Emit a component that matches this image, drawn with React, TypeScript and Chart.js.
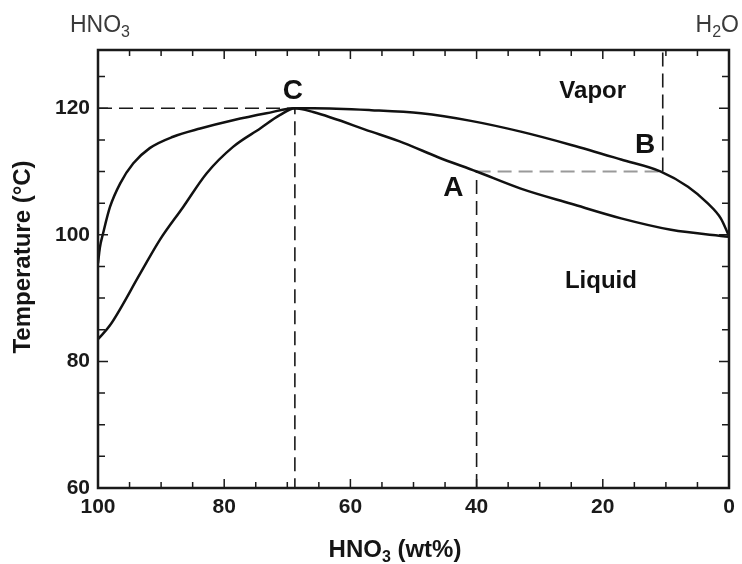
import React, { useEffect, useRef } from "react";
import { Chart, registerables } from "chart.js";

Chart.register(...registerables);

// ---- Data (HNO3 wt% vs temperature °C) ----
const vaporWt = [100, 99.7, 99.2, 98.1, 96.5, 94.4, 91.8, 88.1, 83.8, 78.6, 73.3, 68.8, 65.9, 56.7, 48.8, 40.9, 33.0, 25.0, 17.1, 10.8, 6.5, 3.4, 1.3, 0];
const vaporT = [95.5, 98.0, 100.2, 104.4, 108.1, 111.3, 113.7, 115.5, 116.8, 118.1, 119.2, 120.0, 120.0, 119.7, 119.2, 118.0, 116.3, 114.2, 111.9, 110.0, 107.6, 105.0, 102.6, 99.8];

const liquidWt = [100, 98.1, 93.3, 90.2, 86.5, 82.8, 78.6, 74.3, 71.2, 68.8, 65.9, 56.7, 51.5, 46.2, 40.0, 33.0, 25.0, 17.1, 9.2, 0];
const liquidT = [83.5, 85.7, 93.9, 99.2, 104.4, 109.7, 113.9, 116.8, 118.9, 120.0, 119.4, 116.3, 114.5, 112.3, 110.0, 107.3, 104.9, 102.6, 100.8, 99.7];

const pointC = { wt: 68.8, t: 120 };
const pointA = { wt: 40, t: 110 };
const pointB = { wt: 10.5, t: 110 };

const xTickValues = [100, 80, 60, 40, 20, 0];
const yTickValues = [60, 80, 100, 120];
const X_MIN = 0;
const X_MAX = 100;
const Y_MIN = 60;
const Y_MAX = 129.2;
const MINOR_STEP = 5;

const regionLabels = [
  { text: "Vapor", wt: 21.6, t: 122.6 },
  { text: "Liquid", wt: 20.3, t: 92.7 },
];
const pointLabels = [
  { text: "C", wt: 69.1, t: 122.6 },
  { text: "A", wt: 43.7, t: 107.4 },
  { text: "B", wt: 13.3, t: 114.2 },
];

const FONT = '"Liberation Sans", Arial, Helvetica, sans-serif';

function zip(xs: number[], ys: number[]) {
  return xs.map((x, i) => ({ x, y: ys[i] }));
}

function drawParts(
  ctx: CanvasRenderingContext2D,
  parts: { t: string; sub?: boolean }[],
  x: number,
  y: number,
  size: number,
  weight: string,
  align: "left" | "center" | "right"
) {
  const subSize = Math.round(size * 0.68);
  const widths = parts.map((p) => {
    ctx.font = `${weight} ${p.sub ? subSize : size}px ${FONT}`;
    return ctx.measureText(p.t).width;
  });
  const total = widths.reduce((a, b) => a + b, 0);
  let cx = align === "left" ? x : align === "center" ? x - total / 2 : x - total;
  ctx.textAlign = "left";
  ctx.textBaseline = "alphabetic";
  parts.forEach((p, i) => {
    ctx.font = `${weight} ${p.sub ? subSize : size}px ${FONT}`;
    ctx.fillText(p.t, cx, p.sub ? y + size * 0.22 : y);
    cx += widths[i];
  });
}

const decorPlugin = {
  id: "decor",
  afterDraw(chart: any) {
    const { ctx, chartArea, scales } = chart;
    const { left, right, top, bottom } = chartArea;
    const xs = scales.x;
    const ys = scales.y;
    ctx.save();

    // frame
    ctx.strokeStyle = "#1a1a1a";
    ctx.lineWidth = 2.5;
    ctx.strokeRect(left, top, right - left, bottom - top);

    // inward ticks
    ctx.lineWidth = 1.5;
    ctx.beginPath();
    for (let v = X_MIN; v <= X_MAX; v += MINOR_STEP) {
      const px = xs.getPixelForValue(v);
      const len = v % 20 === 0 ? 9 : 6;
      ctx.moveTo(px, bottom);
      ctx.lineTo(px, bottom - len);
      ctx.moveTo(px, top);
      ctx.lineTo(px, top + len);
    }
    for (let v = Y_MIN; v <= Y_MAX; v += MINOR_STEP) {
      const py = ys.getPixelForValue(v);
      const len = v % 20 === 0 ? 10 : 7;
      ctx.moveTo(left, py);
      ctx.lineTo(left + len, py);
      ctx.moveTo(right, py);
      ctx.lineTo(right - len, py);
    }
    ctx.stroke();

    ctx.fillStyle = "#111";
    // region labels
    ctx.textAlign = "center";
    ctx.textBaseline = "middle";
    ctx.font = `bold 24px ${FONT}`;
    regionLabels.forEach((l) => {
      ctx.fillText(l.text, xs.getPixelForValue(l.wt), ys.getPixelForValue(l.t));
    });
    ctx.font = `bold 28px ${FONT}`;
    pointLabels.forEach((l) => {
      ctx.fillText(l.text, xs.getPixelForValue(l.wt), ys.getPixelForValue(l.t));
    });

    // axis titles
    ctx.fillStyle = "#151515";
    drawParts(ctx, [{ t: "HNO" }, { t: "3", sub: true }, { t: " (wt%)" }], 395, 557, 24, "bold", "center");

    ctx.save();
    ctx.translate(23, 257);
    ctx.rotate(-Math.PI / 2);
    ctx.font = `bold 24px ${FONT}`;
    ctx.textAlign = "center";
    ctx.textBaseline = "middle";
    ctx.fillText("Temperature (°C)", 0, 0);
    ctx.restore();

    // corner component labels
    ctx.fillStyle = "#3a3a3a";
    drawParts(ctx, [{ t: "HNO" }, { t: "3", sub: true }], 70, 32, 23, "normal", "left");
    drawParts(ctx, [{ t: "H" }, { t: "2", sub: true }, { t: "O" }], 739, 32, 23, "normal", "right");

    ctx.restore();
  },
};

export default function App() {
  const canvasRef = useRef<HTMLCanvasElement | null>(null);

  useEffect(() => {
    if (!canvasRef.current) return;
    const dashed = {
      borderColor: "#1a1a1a",
      borderWidth: 1.6,
      borderDash: [14, 7],
      pointRadius: 0,
      tension: 0,
      fill: false,
    };
    const chart = new Chart(canvasRef.current, {
      type: "line",
      data: {
        datasets: [
          {
            label: "Vapor",
            data: zip(vaporWt, vaporT),
            borderColor: "#111",
            borderWidth: 2.5,
            pointRadius: 0,
            cubicInterpolationMode: "monotone",
            fill: false,
          },
          {
            label: "Liquid",
            data: zip(liquidWt, liquidT),
            borderColor: "#111",
            borderWidth: 2.5,
            pointRadius: 0,
            cubicInterpolationMode: "monotone",
            fill: false,
          },
          {
            label: "C",
            data: [
              { x: X_MAX, y: pointC.t },
              { x: pointC.wt, y: pointC.t },
              { x: pointC.wt, y: Y_MIN },
            ],
            ...dashed,
          },
          {
            label: "A",
            data: [
              { x: pointA.wt, y: Y_MIN },
              { x: pointA.wt, y: pointA.t },
            ],
            ...dashed,
          },
          {
            label: "AB",
            data: [
              { x: pointA.wt, y: pointA.t },
              { x: pointB.wt, y: pointB.t },
            ],
            ...dashed,
            borderColor: "#9a9a9a",
            borderWidth: 2,
          },
          {
            label: "B",
            data: [
              { x: pointB.wt, y: pointB.t },
              { x: pointB.wt, y: Y_MAX },
            ],
            ...dashed,
          },
        ],
      } as any,
      options: {
        animation: false,
        responsive: true,
        maintainAspectRatio: false,
        layout: { padding: { top: 50, right: 13, left: 0, bottom: 0 } },
        plugins: {
          legend: { display: false },
          tooltip: { enabled: false },
        },
        scales: {
          x: {
            type: "linear",
            reverse: true,
            min: X_MIN,
            max: X_MAX,
            grid: { display: false, drawTicks: false },
            border: { display: false },
            afterBuildTicks: (scale: any) => {
              scale.ticks = xTickValues.map((v) => ({ value: v }));
            },
            afterFit: (scale: any) => {
              scale.height = 76;
            },
            ticks: {
              padding: 7,
              color: "#1a1a1a",
              font: { family: FONT, size: 21, weight: "bold" },
              maxRotation: 0,
              autoSkip: false,
            },
          },
          y: {
            type: "linear",
            min: Y_MIN,
            max: Y_MAX,
            grid: { display: false, drawTicks: false },
            border: { display: false },
            afterBuildTicks: (scale: any) => {
              scale.ticks = yTickValues.map((v) => ({ value: v }));
            },
            afterFit: (scale: any) => {
              scale.width = 98;
            },
            ticks: {
              padding: 8,
              color: "#1a1a1a",
              font: { family: FONT, size: 21, weight: "bold" },
              autoSkip: false,
            },
          },
        },
      } as any,
      plugins: [decorPlugin],
    });
    return () => chart.destroy();
  }, []);

  return (
    <div style={{ position: "absolute", left: 0, top: 0, width: 742, height: 564, background: "#fff" }}>
      <canvas ref={canvasRef} />
    </div>
  );
}
